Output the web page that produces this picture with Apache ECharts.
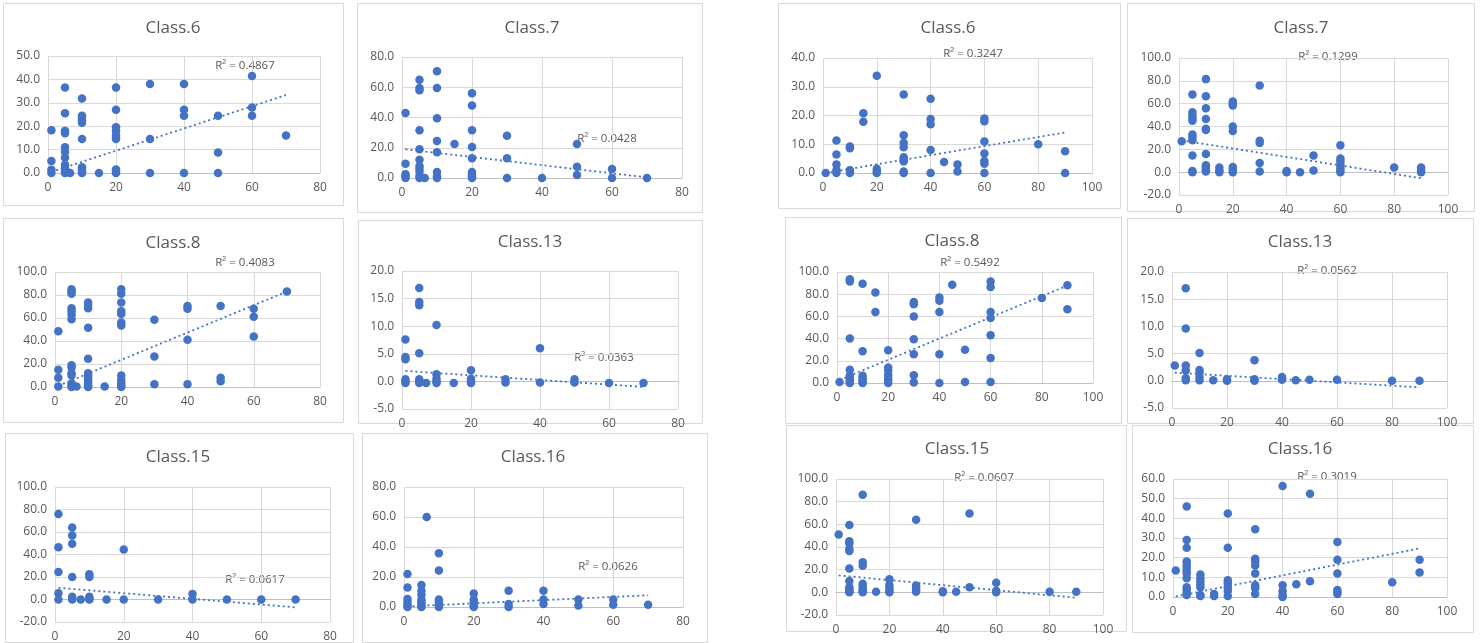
<!DOCTYPE html>
<html>
<head>
<meta charset="utf-8">
<script src="https://cdn.jsdelivr.net/npm/echarts@6/dist/echarts.min.js"></script>
<style>
html,body{margin:0;padding:0;background:#fff;}
#chart{width:1481px;height:643px;}
</style>
</head>
<body>
<div id="chart"></div>
<script>
// ---------- DATA ----------
const titles = ['Class.6','Class.7','Class.8','Class.13','Class.15','Class.16',
                'Class.6','Class.7','Class.8','Class.13','Class.15','Class.16'];
const r2Labels = ['R² = 0.4867','R² = 0.0428','R² = 0.4083','R² = 0.0363','R² = 0.0617','R² = 0.0626',
                  'R² = 0.3247','R² = 0.1299','R² = 0.5492','R² = 0.0562','R² = 0.0607','R² = 0.3019'];
const xMaxes = [80,80,80,80,80,80,100,100,100,100,100,100];
const xTickInterval = 20;
// [min, max, interval] of each y axis
const yRanges = [[0,50,10],[0,80,20],[0,100,20],[-5,20,5],[-20,100,20],[0,80,20],
                 [0,40,10],[-20,100,20],[0,100,20],[-5,20,5],[-20,100,20],[0,60,10]];

const L_class6 = [[1,18.3],[1,5.1],[1,1.4],[1,0],
 [5,36.5],[5,25.5],[5,18],[5,17],[5,11],[5,9],[5,6.5],[5,3.5],[5,2],[5,1],[5,0],
 [6.5,0],
 [10,31.8],[10,24.5],[10,23.5],[10,22.5],[10,21.5],[10,14.5],[10,2.5],[10,1.5],[10,0.5],[10,0],
 [15,0],
 [20,36.5],[20,27],[20,19.5],[20,18],[20,16],[20,15],[20,14.5],[20,1.5],[20,0.5],[20,0],
 [30,38],[30,14.5],[30,0],
 [40,38],[40,27],[40,24.5],[40,0],
 [50,24.5],[50,8.8],[50,0],
 [60,41.5],[60,28],[60,24.5],
 [70,16]];
const L_trend6 = [[1,0.5],[70,33.3]];

const L_class7 = [[1,43],[1,9.5],[1,2.5],[1,1],[1,0],
 [5,65],[5,59.5],[5,58],[5,31.5],[5,19],[5,12],[5,8],[5,6],[5,4],[5,1.5],[5,0],
 [6.5,0],
 [10,70.5],[10,59.5],[10,39.5],[10,24.5],[10,17],[10,4],[10,1],[10,0],
 [15,22.5],
 [20,56],[20,48],[20,31.5],[20,20.5],[20,13],[20,4],[20,2.5],[20,1],[20,0],
 [30,28],[30,13],[30,0],
 [40,0],
 [50,22.5],[50,7.5],[50,2],
 [60,6],[60,0],
 [70,0]];
const L_trend7 = [[1,19],[70,0.4]];

const L_class8 = [[1,48.5],[1,15],[1,8],[1,0.5],
 [5,85],[5,83],[5,81],[5,68.5],[5,66],[5,63],[5,59],[5,19],[5,17],[5,12],[5,10],[5,3],[5,1],[5,0],
 [6.5,0.5],
 [10,73.5],[10,71],[10,68.5],[10,51.5],[10,24.5],[10,12],[10,10],[10,7.5],[10,5.5],[10,3],[10,1],[10,0],
 [15,0.5],
 [20,85],[20,81],[20,73.5],[20,66],[20,63.5],[20,56],[20,53.5],[20,10],[20,6],[20,3.5],[20,1],[20,0],
 [30,58.5],[30,26.5],[30,2.5],
 [40,70.5],[40,68],[40,41],[40,2.5],
 [50,70.5],[50,8],[50,5],
 [60,68],[60,61],[60,44],
 [70,83]];
const L_trend8 = [[1,1],[70,83]];

const L_class13 = [[1,7.6],[1,4.4],[1,4],[1,0.4],[1,0],[1,-0.3],
 [5,16.9],[5,14.4],[5,13.8],[5,5.1],[5,0.4],[5,0],[5,-0.3],
 [7,-0.3],
 [10,10.2],[10,1.3],[10,0.5],[10,0],[10,-0.3],
 [15,-0.3],
 [20,2],[20,0.5],[20,0],[20,-0.3],
 [30,0.4],[30,-0.2],
 [40,6],[40,-0.2],
 [50,0.4],[50,-0.2],
 [60,-0.3],
 [70,-0.3]];
const L_trend13 = [[1,1.9],[70,-1]];

const L_class15 = [[1,76],[1,46.5],[1,24.5],[1,5.5],[1,0],
 [5,64],[5,57],[5,49.5],[5,20],[5,2.5],[5,1],[5,0],
 [7.5,0],
 [10,22.5],[10,20],[10,2.5],[10,0.5],[10,0],
 [15,0],
 [20,44.5],[20,0],
 [30,0],
 [40,5],[40,0],
 [50,0],
 [60,0],
 [70,0]];
const L_trend15 = [[1,10.4],[70,-7]];

const L_class16 = [[1,22],[1,13],[1,5.3],[1,3],[1,1],[1,0],
 [5,14.7],[5,10.9],[5,8.2],[5,5],[5,3.5],[5,2],[5,0.5],[5,0],
 [6.5,60],
 [10,35.8],[10,24.4],[10,5],[10,3.5],[10,1.5],[10,0],
 [15,-1],
 [20,9],[20,5],[20,3],[20,1],[20,0],
 [30,10.8],[30,2],[30,0],
 [40,10.8],[40,5],[40,2],
 [50,5],[50,1],[50,-0.5],
 [60,5],[60,1.5],
 [70,1.5]];
const L_trend16 = [[1,0.4],[70,7.8]];

const R_class6 = [[1,0],
 [5,11.3],[5,6.4],[5,3],[5,1],[5,0],
 [10,9.2],[10,8.6],[10,1],[10,0],
 [15,20.8],[15,17.8],
 [20,33.8],[20,1.5],[20,0.5],[20,0],
 [30,27.3],[30,13.1],[30,10.4],[30,9],[30,5.5],[30,4.5],[30,4],[30,0.5],[30,0],
 [40,25.8],[40,18.8],[40,17],[40,8],[40,0],
 [45,3.8],
 [50,3],[50,0.5],
 [60,19],[60,18],[60,11],[60,6.8],[60,4.2],[60,3.2],[60,0],
 [80,10],
 [90,7.6],[90,0]];
const R_trend6 = [[1,0],[90,14.1]];

const R_class7 = [[1,27],
 [5,68],[5,52.5],[5,49.5],[5,47],[5,45],[5,33],[5,30.5],[5,28],[5,14.5],[5,1],[5,0],
 [10,81.5],[10,66.5],[10,56],[10,46.5],[10,38],[10,37],[10,16],[10,6],[10,4.5],[10,3],[10,1.5],[10,0.5],
 [15,4],[15,1.5],[15,0],
 [20,62],[20,60],[20,58.5],[20,40],[20,36],[20,4.5],[20,2],[20,0],
 [30,76],[30,27.5],[30,25.5],[30,8],[30,0.5],
 [40,1],[40,0],
 [45,0],
 [50,14.5],[50,1.5],
 [60,23.5],[60,12],[60,9.5],[60,6.5],[60,4],[60,2],[60,0],
 [80,4],
 [90,4],[90,2],[90,0]];
const R_trend7 = [[1,27.8],[90,-5.3]];

const R_class8 = [[1,1],
 [5,93.5],[5,91.5],[5,40],[5,12],[5,6.5],[5,4.5],[5,2.5],[5,1],[5,0],
 [10,89.5],[10,28.5],[10,6.5],[10,4.5],[10,2.5],[10,1],[10,0],
 [15,81.5],[15,64],
 [20,29.5],[20,14],[20,11.5],[20,7.5],[20,4],[20,2],[20,0],
 [30,73],[30,71],[30,60],[30,39.5],[30,26],[30,7],[30,0.5],
 [40,77],[40,74],[40,64],[40,26],[40,0],
 [45,88.5],
 [50,30],[50,1],
 [60,91.5],[60,86.5],[60,64],[60,58.5],[60,43],[60,22.5],[60,1],
 [80,76.5],
 [90,88],[90,66.5]];
const R_trend8 = [[1,2.8],[90,87.8]];

const R_class13 = [[1,2.8],
 [5,17],[5,9.6],[5,2.8],[5,1.9],[5,0.5],[5,0.1],
 [10,5.1],[10,2],[10,1.5],[10,0.7],[10,0.1],
 [15,0.1],
 [20,0.3],[20,0],
 [30,3.8],[30,0.3],[30,0],
 [40,0.7],[40,0.2],
 [45,0.1],
 [50,0.2],
 [60,0.2],
 [80,0],
 [90,0]];
const R_trend13 = [[1,1.5],[90,-1.2]];

const R_class15 = [[1,51],
 [5,59.5],[5,45],[5,43],[5,38.5],[5,36.5],[5,21],[5,10],[5,4.5],[5,2.5],[5,1],[5,0],
 [10,86],[10,26.5],[10,23.5],[10,7.5],[10,5.5],[10,3],[10,1],[10,0],
 [15,0.5],
 [20,11.5],[20,6.5],[20,4],[20,1.5],[20,0],
 [30,64],[30,6],[30,4],[30,2],[30,0.5],
 [40,1],[40,0],
 [45,0.5],
 [50,69.5],[50,4.5],
 [60,8.5],[60,1.5],[60,0],
 [80,0.5],
 [90,0.5]];
const R_trend15 = [[1,15],[90,-4.8]];

const R_class16 = [[1,13.5],
 [5,46],[5,29],[5,25],[5,18],[5,16.5],[5,15],[5,13.5],[5,12],[5,9.5],[5,5],[5,3.5],[5,2],[5,1],
 [10,11.5],[10,9.5],[10,8],[10,6.5],[10,5],[10,1],[10,0.5],
 [15,1.5],[15,0.5],
 [20,42.5],[20,25],[20,8.5],[20,7],[20,5],[20,3],[20,0.5],
 [30,34.5],[30,19.5],[30,18],[30,16],[30,12],[30,6],[30,4.5],[30,1.5],
 [40,56.5],[40,6],[40,3],[40,1],[40,0],
 [45,6.5],
 [50,52.5],[50,8],
 [60,28],[60,19],[60,12],[60,3.5],[60,2.5],[60,1.5],
 [80,7.5],
 [90,19],[90,12.5]];
const R_trend16 = [[1,0.3],[90,24.7]];

const pointSets = [L_class6,L_class7,L_class8,L_class13,L_class15,L_class16,
                   R_class6,R_class7,R_class8,R_class13,R_class15,R_class16];
const trendSets = [L_trend6,L_trend7,L_trend8,L_trend13,L_trend15,L_trend16,
                   R_trend6,R_trend7,R_trend8,R_trend13,R_trend15,R_trend16];

// ---------- LAYOUT (pixels) ----------
const layout = [
 {box:[3,3,340,202],    t:[173,28],  r:[245,66],   g:[48,56,272,117]},
 {box:[357,3,345,209],  t:[532,28],  r:[607,139],  g:[402,57,280,121]},
 {box:[3,218,340,204],  t:[173,243], r:[245,263],  g:[55,272,265,115]},
 {box:[358,220,344,203],t:[530,242], r:[604,358],  g:[402,271,276,138]},
 {box:[5,433,348,209],  t:[178,457], r:[255,580],  g:[55,487,275,138]},
 {box:[362,433,345,209],t:[533,457], r:[608,567],  g:[404,487,279,120]},
 {box:[778,3,342,205],  t:[948,28],  r:[973,54],   g:[823,58,269,115]},
 {box:[1127,3,347,208], t:[1301,28], r:[1328,57],  g:[1179,58,269,137]},
 {box:[785,217,336,206],t:[952,241], r:[970,263],  g:[837,272,256,111]},
 {box:[1127,218,346,205],t:[1300,242],r:[1327,271],g:[1172,272,275,136]},
 {box:[786,425,340,206],t:[957,449], r:[984,478],  g:[836,479,267,136]},
 {box:[1132,425,341,207],t:[1300,449],r:[1327,477],g:[1173,479,274,118]}
];

const BLUE = '#4472C4';
const TXT = '#595959';
const GRIDC = '#d9d9d9';
const FONT = '"Open Sans", sans-serif';

const grids = [], xAxes = [], yAxes = [], series = [], graphics = [];
layout.forEach((L, i) => {
  grids.push({left:L.g[0], top:L.g[1], width:L.g[2], height:L.g[3], containLabel:false});
  xAxes.push({
    type:'value', gridIndex:i, min:0, max:xMaxes[i], interval:xTickInterval,
    axisLine:{show:true, onZero:true, lineStyle:{color:'#bfbfbf', width:1}},
    axisTick:{show:false},
    splitLine:{show:true, lineStyle:{color:GRIDC, width:1}},
    axisLabel:{color:TXT, fontSize:12, fontFamily:FONT, margin:9}
  });
  const yr = yRanges[i];
  yAxes.push({
    type:'value', gridIndex:i, min:yr[0], max:yr[1], interval:yr[2],
    axisLine:{show:false}, axisTick:{show:false},
    splitLine:{show:true, lineStyle:{color:GRIDC, width:1}},
    axisLabel:{color:TXT, fontSize:12, fontFamily:FONT, margin:8,
               formatter: v => v.toFixed(1)}
  });
  series.push({
    type:'scatter', xAxisIndex:i, yAxisIndex:i, data:pointSets[i],
    symbol:'circle', symbolSize:8.5, itemStyle:{color:BLUE, opacity:1}, z:3
  });
  series.push({
    type:'line', xAxisIndex:i, yAxisIndex:i, data:trendSets[i],
    showSymbol:false, symbol:'none', silent:true,
    lineStyle:{color:BLUE, width:1.8, type:[2,3]}, z:4
  });
  graphics.push({
    type:'rect', silent:true, z:-10,
    shape:{x:L.box[0]+0.5, y:L.box[1]+0.5, width:L.box[2], height:L.box[3]},
    style:{fill:'#fff', stroke:GRIDC, lineWidth:1}
  });
  graphics.push({
    type:'text', silent:true, x:L.t[0], y:L.t[1],
    style:{text:titles[i], font:'17px ' + FONT, fill:TXT,
           textAlign:'center', textVerticalAlign:'middle', align:'center', verticalAlign:'middle'}
  });
  graphics.push({
    type:'text', silent:true, x:L.r[0], y:L.r[1],
    style:{text:r2Labels[i], font:'11.5px ' + FONT, fill:TXT,
           textAlign:'center', textVerticalAlign:'middle', align:'center', verticalAlign:'middle'}
  });
});

const chart = echarts.init(document.getElementById('chart'), null, {renderer:'canvas'});
chart.setOption({
  backgroundColor:'#fff',
  animation:false,
  grid:grids, xAxis:xAxes, yAxis:yAxes, series:series,
  graphic:{elements:graphics}
});
</script>
</body>
</html>
